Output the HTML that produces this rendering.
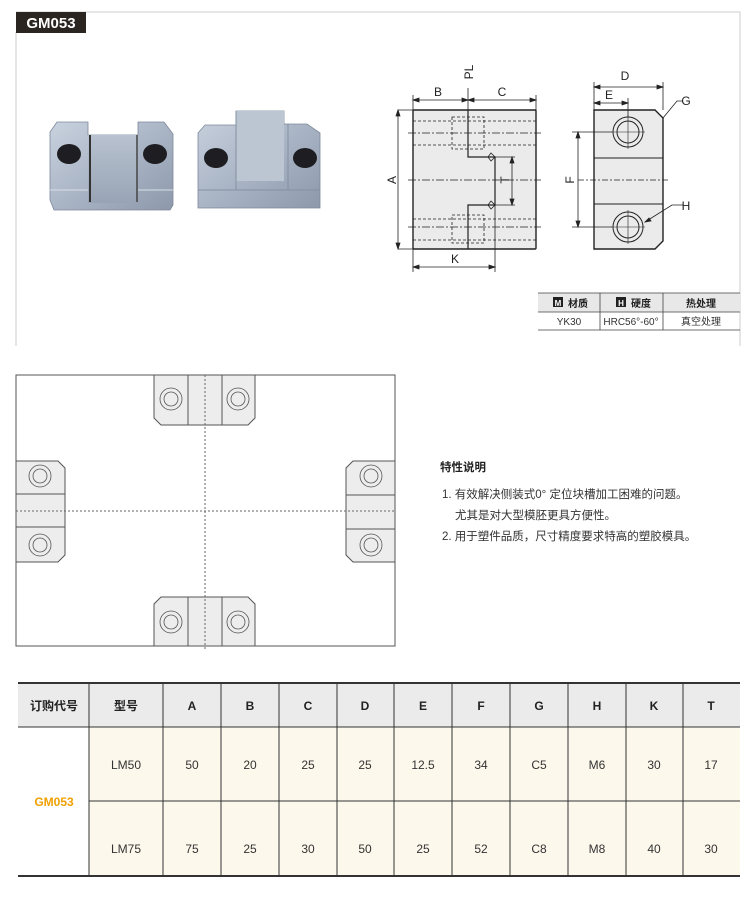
<!DOCTYPE html>
<html><head><meta charset="utf-8"><style>
body{margin:0;background:#fff;width:750px;height:904px;overflow:hidden}
svg{display:block}
text{font-family:"Liberation Sans","Noto Sans CJK SC",sans-serif}
</style></head><body>
<svg width="750" height="904" viewBox="0 0 750 904" xmlns="http://www.w3.org/2000/svg">
<!-- top frame -->
<path d="M16 12H740V346" fill="none" stroke="#ddd" stroke-width="1.5"/>
<line x1="16" y1="32" x2="16" y2="346" stroke="#ddd" stroke-width="1.5"/>
<rect x="16" y="12" width="70" height="21" fill="#2b2522"/>
<text x="51" y="28" font-size="15" font-weight="bold" fill="#fff" text-anchor="middle">GM053</text>
<defs>
<linearGradient id="m" x1="0" y1="0" x2="1" y2="1"><stop offset="0" stop-color="#c9d2de"/><stop offset=".5" stop-color="#aab5c6"/><stop offset="1" stop-color="#8d99ab"/></linearGradient>
<linearGradient id="m2" x1="0" y1="0" x2="0" y2="1"><stop offset="0" stop-color="#b8c2d0"/><stop offset="1" stop-color="#98a4b5"/></linearGradient>
</defs>
<!-- photo 1 -->
<path d="M57 122H88V135H138V122H164L173 134V205L170 210H54L50 200V132Z" fill="url(#m)" stroke="#7d889a" stroke-width=".8"/>
<rect x="88" y="135" width="50" height="68" fill="url(#m2)"/>
<line x1="90" y1="135" x2="90" y2="202" stroke="#333" stroke-width="2"/>
<line x1="137" y1="135" x2="137" y2="202" stroke="#444" stroke-width="1.5"/>
<path d="M50 190H88M138 190H173" stroke="#d9dfe8" stroke-width="1"/>
<ellipse cx="69" cy="154" rx="12" ry="10" fill="#1e1e22"/>
<ellipse cx="155" cy="154" rx="12" ry="10" fill="#1e1e22"/>
<!-- photo 2 -->
<path d="M205 125H236V111H284V124H307L320 133V208H198V133Z" fill="url(#m)" stroke="#7d889a" stroke-width=".8"/>
<rect x="236" y="111" width="48" height="70" fill="#bcc6d3"/>
<path d="M198 190H320M236 111V190M288 124V190" stroke="#8590a2" stroke-width="1"/>
<ellipse cx="216" cy="158" rx="12" ry="10" fill="#1e1e22"/>
<ellipse cx="305" cy="158" rx="12" ry="10" fill="#1e1e22"/>
<!-- front view -->
<g stroke="#222" fill="none" stroke-width="1">
<rect x="413" y="110" width="123" height="139" fill="#ebebeb" stroke-width="1.4" rx="1"/>
<path d="M468 110V157H495V205H468V249" stroke-width="1.2"/>
<path d="M488 157L491 153L495 157L491 161Z M488 205L491 201L495 205L491 209Z" stroke-width=".8"/>
<g stroke-dasharray="3,2" stroke-width=".8">
<rect x="452" y="117" width="32" height="32"/>
<rect x="452" y="215" width="32" height="28"/>
<path d="M413 121H536M413 145H536M413 219H536M413 240H536"/>
</g>
<g stroke-dasharray="8,2,2,2" stroke-width=".8">
<path d="M408 133H541M408 227H541M408 180H541"/>
</g>
<g stroke-width=".8">
<path d="M413 95V110M468 88V110M536 95V110M398 110H413M398 249H413M413 249V272M495 205V272M495 157H515M495 205H515"/>
<path d="M413 100H468M468 100H536M398 110V249M413 267H495M512 157V205"/>
<path d="M413 100l6-2v4zM468 100l-6-2v4zM468 100l6-2v4zM536 100l-6-2v4zM398 110l-2 6h4zM398 249l-2-6h4zM413 267l6-2v4zM495 267l-6-2v4zM512 157l-2 6h4zM512 205l-2-6h4z" fill="#222"/>
</g>
</g>
<g font-size="12" fill="#222" text-anchor="middle">
<text x="438" y="96">B</text><text x="502" y="96">C</text>
<text x="455" y="263">K</text>
<text transform="translate(473,72) rotate(-90)">PL</text>
<text transform="translate(396,180) rotate(-90)">A</text>
<text transform="translate(509,180) rotate(-90)">T</text>
<text x="625" y="80">D</text><text x="609" y="99">E</text>
<text transform="translate(574,180) rotate(-90)">F</text>
<text x="686" y="105">G</text><text x="686" y="210">H</text>
</g>
<!-- side view -->
<g stroke="#222" fill="none" stroke-width="1">
<path d="M594 110H655L663 118V241L655 249H594Z" fill="#ebebeb" stroke-width="1.4"/>
<path d="M594 158H663M594 204H663"/>
<circle cx="628" cy="132" r="15"/><circle cx="628" cy="132" r="11"/>
<circle cx="628" cy="227" r="15"/><circle cx="628" cy="227" r="11"/>
<path d="M628 115V149M611 132H645M628 210V244M611 227H645" stroke-width=".6"/>
<path d="M578 180H670" stroke-dasharray="6,2,2,2" stroke-width=".7"/>
<g stroke-width=".8">
<path d="M594 82V110M663 82V110M628 98V117M572 132H612M572 227H612"/>
<path d="M594 87H663M594 103H628M578 132V227M663 118L677 101H683M645 222L672 205H683"/>
<path d="M594 87l6-2v4zM663 87l-6-2v4zM594 103l6-2v4zM628 103l-6-2v4zM578 132l-2 6h4zM578 227l-2-6h4zM645 222l4-4 2 3z" fill="#222"/>
</g>
</g>
<!-- spec table -->
<rect x="538" y="293" width="202" height="19" fill="#e8e8e8"/>
<path d="M538 293H740M538 312H740M538 330H740M600 293V330M663 293V330" stroke="#444" stroke-width=".8" fill="none"/>
<rect x="553" y="297" width="10" height="10" fill="#222"/><text x="558" y="306" font-size="8" fill="#fff" text-anchor="middle" font-weight="bold">M</text>
<text x="568" y="307" font-size="10" font-weight="bold" fill="#222">材质</text>
<rect x="616" y="297" width="10" height="10" fill="#222"/><text x="621" y="306" font-size="8" fill="#fff" text-anchor="middle" font-weight="bold">H</text>
<text x="631" y="307" font-size="10" font-weight="bold" fill="#222">硬度</text>
<text x="701" y="307" font-size="10" font-weight="bold" fill="#222" text-anchor="middle">热处理</text>
<g font-size="10" fill="#333" text-anchor="middle">
<text x="569" y="325">YK30</text><text x="631" y="325">HRC56°-60°</text><text x="701" y="325">真空处理</text>
</g>
<!-- layout diagram -->
<g stroke="#555" stroke-width="1" fill="none">
<rect x="16" y="375" width="379" height="271"/>
<g fill="#ededed">
<path d="M154 375H255V418L248 425H161L154 418Z"/>
<path d="M154 646H255V604L248 597H161L154 604Z"/>
<path d="M16 461H58L65 468V555L58 562H16Z"/>
<path d="M395 461H353L346 468V555L353 562H395Z"/>
</g>
<path d="M188 375V425M222 375V425M188 597V646M222 597V646M16 494H65M16 527H65M346 495H395M346 529H395"/>
<path d="M205 375V650M16 511H395" stroke-dasharray="2,2" stroke="#666"/>
<g stroke-width=".8">
<circle cx="171" cy="399" r="11"/><circle cx="171" cy="399" r="7"/>
<circle cx="238" cy="399" r="11"/><circle cx="238" cy="399" r="7"/>
<circle cx="171" cy="622" r="11"/><circle cx="171" cy="622" r="7"/>
<circle cx="238" cy="622" r="11"/><circle cx="238" cy="622" r="7"/>
<circle cx="40" cy="476" r="11"/><circle cx="40" cy="476" r="7"/>
<circle cx="40" cy="545" r="11"/><circle cx="40" cy="545" r="7"/>
<circle cx="371" cy="476" r="11"/><circle cx="371" cy="476" r="7"/>
<circle cx="371" cy="545" r="11"/><circle cx="371" cy="545" r="7"/>
</g>
</g>
<!-- features -->
<text x="440" y="471" font-size="11.5" font-weight="bold" fill="#222">特性说明</text>
<g font-size="11.5" fill="#333">
<text x="442" y="498">1. 有效解决侧装式0° 定位块槽加工困难的问题。</text>
<text x="455" y="519">尤其是对大型模胚更具方便性。</text>
<text x="442" y="540">2. 用于塑件品质，尺寸精度要求特高的塑胶模具。</text>
</g>
<!-- bottom table -->
<rect x="18" y="683" width="722" height="44" fill="#ebebeb"/>
<rect x="89" y="727" width="651" height="149" fill="#fdf8ec"/>
<g stroke="#333" stroke-width="1" fill="none">
<path d="M18 727H740M89 801H740"/>
<path d="M89 683V876M163 683V876M221 683V876M279 683V876M337 683V876M394 683V876M452 683V876M510 683V876M568 683V876M626 683V876M683 683V876"/>
<path d="M18 683H740M18 876H740" stroke-width="2"/>
</g>
<g font-size="12" font-weight="bold" fill="#222" text-anchor="middle">
<text x="54" y="710">订购代号</text><text x="126" y="710">型号</text>
<text x="192" y="710">A</text><text x="250" y="710">B</text><text x="308" y="710">C</text><text x="365" y="710">D</text><text x="423" y="710">E</text><text x="481" y="710">F</text><text x="539" y="710">G</text><text x="597" y="710">H</text><text x="654" y="710">K</text><text x="711" y="710">T</text>
</g>
<text x="54" y="806" font-size="12" font-weight="bold" fill="#f0a000" text-anchor="middle">GM053</text>
<g font-size="12" fill="#333" text-anchor="middle">
<text x="126" y="769">LM50</text><text x="192" y="769">50</text><text x="250" y="769">20</text><text x="308" y="769">25</text><text x="365" y="769">25</text><text x="423" y="769">12.5</text><text x="481" y="769">34</text><text x="539" y="769">C5</text><text x="597" y="769">M6</text><text x="654" y="769">30</text><text x="711" y="769">17</text>
<text x="126" y="853">LM75</text><text x="192" y="853">75</text><text x="250" y="853">25</text><text x="308" y="853">30</text><text x="365" y="853">50</text><text x="423" y="853">25</text><text x="481" y="853">52</text><text x="539" y="853">C8</text><text x="597" y="853">M8</text><text x="654" y="853">40</text><text x="711" y="853">30</text>
</g>
</svg>
</body></html>
